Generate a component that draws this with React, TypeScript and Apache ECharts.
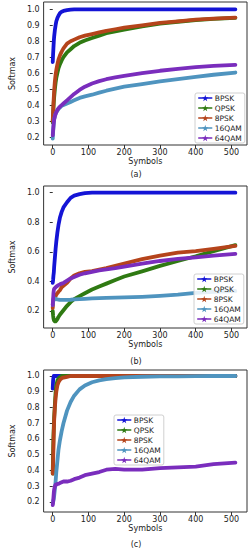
import React, { useEffect, useRef } from "react";
import * as echarts from "echarts";

const symbols = [0, 1, 2, 3, 4, 6, 8, 10, 13, 16, 20, 25, 30, 40, 50, 60, 75, 90, 110, 130, 150, 175, 200, 250, 300, 350, 400, 450, 511];

const names = ["BPSK", "QPSK", "8PSK", "16QAM", "64QAM"];
const colors = ["#1414d6", "#2f7a12", "#b5441b", "#4f94bf", "#7a2dbd"];

// (a)
const bpskA = [0.67, 0.72, 0.76, 0.8, 0.83, 0.87, 0.9, 0.925, 0.945, 0.96, 0.975, 0.985, 0.99, 0.995, 0.998, 1.0, 1.0, 1.0, 1.0, 1.0, 1.0, 1.0, 1.0, 1.0, 1.0, 1.0, 1.0, 1.0, 1.0];
const qpskA = [0.29, 0.34, 0.38, 0.42, 0.45, 0.5, 0.54, 0.57, 0.6, 0.63, 0.655, 0.68, 0.7, 0.73, 0.75, 0.77, 0.79, 0.805, 0.82, 0.835, 0.85, 0.862, 0.873, 0.893, 0.91, 0.922, 0.932, 0.94, 0.946];
const psk8A = [0.3, 0.36, 0.41, 0.45, 0.49, 0.55, 0.59, 0.62, 0.655, 0.685, 0.71, 0.735, 0.755, 0.785, 0.8, 0.81, 0.825, 0.835, 0.845, 0.855, 0.865, 0.875, 0.885, 0.9, 0.915, 0.925, 0.935, 0.942, 0.948];
const qam16A = [0.19, 0.23, 0.26, 0.29, 0.31, 0.33, 0.345, 0.355, 0.365, 0.375, 0.385, 0.395, 0.4, 0.41, 0.42, 0.43, 0.445, 0.455, 0.465, 0.478, 0.49, 0.503, 0.515, 0.532, 0.548, 0.562, 0.576, 0.59, 0.604];
const qam64A = [0.21, 0.24, 0.27, 0.29, 0.31, 0.33, 0.345, 0.355, 0.37, 0.38, 0.39, 0.4, 0.41, 0.43, 0.45, 0.47, 0.495, 0.515, 0.535, 0.55, 0.562, 0.573, 0.583, 0.6, 0.615, 0.627, 0.638, 0.645, 0.652];

// (b)
const bpskB = [0.39, 0.41, 0.44, 0.46, 0.5, 0.56, 0.62, 0.67, 0.73, 0.78, 0.83, 0.87, 0.9, 0.935, 0.965, 0.98, 0.99, 0.997, 1.0, 1.0, 1.0, 1.0, 1.0, 1.0, 1.0, 1.0, 1.0, 1.0, 1.0];
const qpskB = [0.2, 0.17, 0.15, 0.14, 0.135, 0.13, 0.13, 0.135, 0.145, 0.16, 0.175, 0.19, 0.205, 0.235, 0.26, 0.28, 0.3, 0.32, 0.345, 0.365, 0.385, 0.41, 0.433, 0.468, 0.505, 0.538, 0.57, 0.605, 0.645];
const psk8B = [0.22, 0.26, 0.28, 0.29, 0.3, 0.3, 0.3, 0.31, 0.32, 0.33, 0.34, 0.36, 0.37, 0.39, 0.42, 0.44, 0.455, 0.465, 0.47, 0.48, 0.49, 0.505, 0.52, 0.55, 0.575, 0.595, 0.605, 0.62, 0.64];
const qam16B = [0.24, 0.26, 0.27, 0.28, 0.285, 0.285, 0.28, 0.28, 0.278, 0.277, 0.275, 0.275, 0.275, 0.275, 0.276, 0.278, 0.28, 0.282, 0.285, 0.287, 0.288, 0.29, 0.292, 0.296, 0.302, 0.31, 0.322, 0.33, 0.335];
const qam64B = [0.24, 0.28, 0.32, 0.34, 0.35, 0.355, 0.36, 0.365, 0.37, 0.375, 0.38, 0.385, 0.39, 0.405, 0.42, 0.43, 0.445, 0.455, 0.465, 0.475, 0.482, 0.49, 0.5, 0.52, 0.538, 0.552, 0.563, 0.575, 0.586];

// (c)
const bpskC = [0.92, 0.97, 0.99, 1.0, 1.0, 1.0, 1.0, 1.0, 1.0, 1.0, 1.0, 1.0, 1.0, 1.0, 1.0, 1.0, 1.0, 1.0, 1.0, 1.0, 1.0, 1.0, 1.0, 1.0, 1.0, 1.0, 1.0, 1.0, 1.0];
const qpskC = [0.38, 0.52, 0.62, 0.68, 0.74, 0.82, 0.9, 0.94, 0.97, 0.985, 0.993, 1.0, 1.0, 1.0, 1.0, 1.0, 1.0, 1.0, 1.0, 1.0, 1.0, 1.0, 1.0, 1.0, 1.0, 1.0, 1.0, 1.0, 1.0];
const psk8C = [0.38, 0.45, 0.55, 0.65, 0.72, 0.8, 0.86, 0.9, 0.94, 0.96, 0.975, 0.985, 0.99, 0.995, 1.0, 1.0, 1.0, 1.0, 1.0, 1.0, 1.0, 1.0, 1.0, 1.0, 1.0, 1.0, 1.0, 1.0, 1.0];
const qam16C = [0.19, 0.2, 0.21, 0.22, 0.24, 0.28, 0.33, 0.39, 0.46, 0.53, 0.59, 0.65, 0.7, 0.78, 0.835, 0.875, 0.915, 0.94, 0.96, 0.972, 0.98, 0.987, 0.991, 0.995, 0.997, 0.998, 0.999, 1.0, 1.0];
const qam64C = [0.18, 0.2, 0.23, 0.26, 0.28, 0.3, 0.31, 0.31, 0.315, 0.315, 0.32, 0.325, 0.33, 0.33, 0.335, 0.345, 0.355, 0.37, 0.38, 0.39, 0.405, 0.41, 0.405, 0.405, 0.415, 0.42, 0.425, 0.44, 0.45];

const xTicks = [0, 100, 200, 300, 400, 500];
const yTicksA = [0.2, 0.3, 0.4, 0.5, 0.6, 0.7, 0.8, 0.9, 1.0];
const yTicksB = [0.2, 0.4, 0.6, 0.8, 1.0];
const yTicksC = [0.2, 0.3, 0.4, 0.5, 0.6, 0.7, 0.8, 0.9, 1.0];
const captions = ["(a)", "(b)", "(c)"];

const STAR =
  "path://M0,-10 L2.35,-3.24 L9.51,-3.09 L3.8,1.24 L5.88,8.09 L0,4 L-5.88,8.09 L-3.8,1.24 L-9.51,-3.09 L-2.35,-3.24 Z";

const FONT = "DejaVu Sans";
const TXT = "#222";

export default function App() {
  const ref = useRef<HTMLDivElement>(null);
  useEffect(() => {
    if (!ref.current) return;
    const chart = echarts.init(ref.current, null, { renderer: "svg" });
    const sets = [
      [bpskA, qpskA, psk8A, qam16A, qam64A],
      [bpskB, qpskB, psk8B, qam16B, qam64B],
      [bpskC, qpskC, psk8C, qam16C, qam64C],
    ];
    const grids = [
      { left: 26, top: 2, width: 221, height: 143 },
      { left: 26, top: 186, width: 221, height: 142 },
      { left: 28, top: 370, width: 219, height: 142 },
    ];
    const yRanges = [
      [0.15, 1.0457],
      [0.085, 1.045],
      [0.1365, 1.038],
    ];
    const yTicks = [yTicksA, yTicksB, yTicksC];
    const legendPos = [
      { left: 195, top: 93 },
      { left: 194, top: 274 },
      { left: 114, top: 415 },
    ];
    const captionY = [174, 361, 544];

    const series: any[] = [];
    sets.forEach((vals, i) => {
      vals.forEach((v, k) => {
        series.push({
          type: "line",
          name: names[k],
          xAxisIndex: i,
          yAxisIndex: i,
          data: symbols.map((x, j) => [x, v[j]]),
          showSymbol: false,
          symbol: STAR,
          symbolSize: 5,
          lineStyle: { width: 3.8, color: colors[k], cap: "round", join: "round" },
          itemStyle: { color: colors[k] },
          color: colors[k],
        });
      });
    });

    chart.setOption({
      animation: false,
      textStyle: { fontFamily: FONT },
      grid: grids.map((g) => ({
        ...g,
        show: true,
        borderColor: "#333",
        borderWidth: 1,
        backgroundColor: "transparent",
      })),
      xAxis: grids.map((_, i) => ({
        type: "value",
        gridIndex: i,
        min: -25.5,
        max: 543.5,
        name: "Symbols",
        nameLocation: "middle",
        nameGap: 12,
        nameTextStyle: { fontSize: 8, color: TXT, fontFamily: FONT },
        axisLine: { show: false },
        splitLine: { show: false },
        axisTick: { show: true, length: 3, lineStyle: { color: "#333" }, customValues: xTicks },
        axisLabel: {
          fontSize: 8,
          color: TXT,
          fontFamily: FONT,
          margin: 3,
          customValues: xTicks,
          formatter: (v: number) => String(v),
        },
      })),
      yAxis: grids.map((_, i) => ({
        type: "value",
        gridIndex: i,
        min: yRanges[i][0],
        max: yRanges[i][1],
        name: "Softmax",
        nameLocation: "middle",
        nameGap: 17,
        nameTextStyle: { fontSize: 8, color: TXT, fontFamily: FONT },
        axisLine: { show: false },
        splitLine: { show: false },
        axisTick: { show: true, length: 3, lineStyle: { color: "#333" }, customValues: yTicks[i] },
        axisLabel: {
          fontSize: 8,
          color: TXT,
          fontFamily: FONT,
          margin: 4,
          customValues: yTicks[i],
          formatter: (v: number) => v.toFixed(1),
        },
      })),
      legend: legendPos.map((p) => ({
        ...p,
        orient: "vertical",
        data: names,
        itemWidth: 13,
        itemHeight: 8,
        itemGap: 2,
        itemSymbolSize: 6,
        padding: [1, 3, 1, 3],
        backgroundColor: "rgba(255,255,255,0.85)",
        borderColor: "#d0d0d0",
        borderWidth: 1,
        borderRadius: 2,
        lineStyle: { width: 1.5 },
        textStyle: { fontSize: 7.5, color: TXT, fontFamily: FONT, lineHeight: 8, padding: [0, 0, 0, -2] },
        selectedMode: false,
      })),
      graphic: captions.map((c, i) => ({
        type: "text",
        x: 136,
        y: captionY[i],
        style: {
          text: c,
          fontSize: 8,
          fill: TXT,
          fontFamily: FONT,
          align: "center",
          verticalAlign: "middle",
        },
      })),
      series,
    });
    return () => chart.dispose();
  }, []);
  return (
    <div
      ref={ref}
      style={{ position: "absolute", left: 0, top: 0, width: 250, height: 550 }}
    />
  );
}
